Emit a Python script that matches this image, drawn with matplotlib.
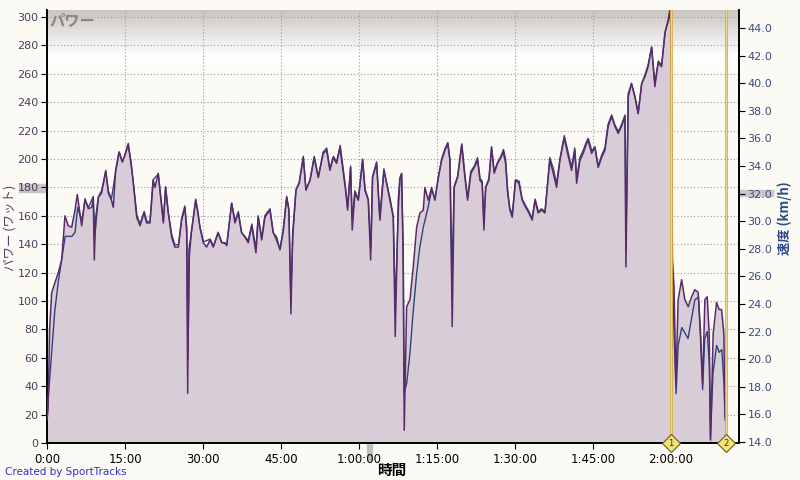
import numpy as np
import matplotlib
matplotlib.use("Agg")
import matplotlib.pyplot as plt
from matplotlib.ticker import FuncFormatter, MultipleLocator
import matplotlib.transforms as mtransforms

plt.rcParams['font.family'] = ['DejaVu Sans', 'Noto Sans CJK JP']

# ---- data (time in minutes) ----
power_t = [0.0, 0.2, 0.3, 0.5, 0.9, 1.54, 2.17, 2.83, 3.46, 4.1, 4.75, 5.38, 5.83, 6.67, 7.31, 7.94,
           8.6, 8.9, 9.1, 9.37, 9.87, 10.5, 11.3, 11.8, 12.4, 12.75, 13.2, 13.85, 14.5, 15.0, 15.63,
           16.15, 16.6, 17.25, 17.9, 18.65, 19.17, 19.8, 20.44, 20.77, 21.4, 22.06, 22.37, 22.83,
           23.33, 23.98, 24.6, 25.25, 25.9, 26.54, 26.87, 27.06, 27.3, 27.83, 28.6, 28.98, 29.42,
           30.06, 30.71, 31.35, 31.98, 32.94, 33.6, 34.23, 34.56, 35.52, 36.15, 36.79, 37.44, 38.08,
           38.71, 39.37, 40.19, 40.63, 41.29, 41.92, 42.88, 43.52, 44.17, 44.81, 45.44, 46.1, 46.54,
           46.92, 47.25, 47.88, 48.52, 49.29, 49.81, 50.58, 51.4, 52.17, 53.13, 53.79, 54.42, 55.06,
           55.71, 56.35, 56.87, 57.5, 57.83, 58.4, 58.71, 59.23, 59.87, 60.71, 61.15, 61.79, 62.25,
           62.63, 63.4, 64.04, 64.81, 65.33, 65.96, 66.6, 66.98, 67.56, 67.88, 68.21, 68.52, 68.71,
           69.17, 69.81, 70.44, 71.1, 71.73, 72.37, 72.69, 73.33, 73.98, 74.62, 75.25, 75.9, 76.54,
           77.06, 77.5, 77.94, 78.33, 78.98, 79.75, 80.38, 80.9, 81.54, 82.17, 82.83, 83.27, 83.71,
           84.04, 84.37, 85.0, 85.52, 86.02, 86.67, 87.31, 87.75, 88.21, 88.6, 89.04, 89.48, 90.13,
           90.77, 91.4, 92.06, 92.69, 93.33, 93.85, 94.48, 95.13, 95.77, 96.29, 96.73, 97.37, 98.02,
           98.65, 99.48, 100.13, 100.9, 101.54, 101.87, 102.5, 103.13, 103.79, 104.1, 104.75, 105.38,
           106.02, 106.67, 107.31, 107.94, 108.6, 109.23, 109.87, 110.52, 111.15, 111.35, 111.79,
           112.44, 113.08, 113.71, 114.37, 115.0, 115.63, 116.29, 116.92, 117.56, 118.21, 118.85,
           119.48, 119.81, 120.0, 120.3, 120.6, 120.96, 121.4, 122.06, 122.69, 123.33, 123.98,
           124.62, 125.25, 125.71, 126.1, 126.54, 126.98, 127.37, 127.63, 128.13, 128.79, 129.29,
           129.75, 130.19, 130.44]
power_w = [16, 23, 40, 80, 106, 113, 120, 129, 160, 153, 152, 164, 175, 153, 172, 165,
           166, 172, 129, 159, 173, 176, 192, 176, 171, 166, 192, 205, 198, 203, 211,
           197, 183, 159, 153, 162, 155, 155, 185, 180, 190, 166, 155, 180,
           162, 145, 138, 138, 157, 166, 148, 35, 136, 150, 171, 164, 152,
           141, 138, 143, 138, 148, 141, 141, 139, 169, 155, 162, 148, 145,
           141, 153, 134, 159, 143, 159, 164, 148, 145, 136, 149, 173, 164,
           91, 148, 178, 183, 201, 178, 185, 201, 187, 204, 206, 192, 201,
           197, 208, 194, 176, 164, 194, 150, 176, 171, 199, 178, 171, 129,
           187, 197, 157, 192, 183, 171, 159, 75, 171, 187, 190, 129, 9,
           96, 101, 124, 152, 162, 164, 180, 171, 180, 171, 187, 199, 206,
           211, 199, 82, 180, 187, 210, 187, 171, 190, 194, 199, 185, 183,
           150, 180, 185, 208, 190, 197, 201, 205, 197, 176, 164, 159, 185,
           183, 171, 166, 162, 157, 171, 162, 164, 162, 183, 199, 190, 180,
           199, 215, 204, 192, 206, 183, 199, 204, 211, 213, 204, 208,
           194, 201, 206, 223, 230, 223, 218, 223, 230, 124, 246,
           253, 244, 232, 253, 258, 265, 279, 251, 268, 265, 289,
           298, 305, 300, 129, 110, 42, 101, 115, 101, 96, 103,
           108, 106, 77, 42, 101, 103, 77, 2, 77, 99, 94,
           94, 77, 16]

speed_t = [0.0, 0.5, 1.0, 1.5, 2.2, 2.8, 3.5, 4.8, 5.4, 5.9, 6.7, 7.3, 8.0, 8.9, 9.2, 9.9, 10.5,
           11.3, 11.8, 12.4, 13.2, 13.9, 14.5, 15.0, 15.6, 16.2, 16.6, 17.3, 17.9, 18.7, 19.2, 19.8,
           20.4, 21.4, 22.1, 22.4, 22.8, 23.3, 24.0, 24.6, 25.3, 25.9, 26.5, 26.9, 27.1, 27.4, 27.8,
           28.6, 29.4, 30.1, 31.4, 32.0, 32.9, 33.6, 34.6, 35.5, 36.2, 36.8, 37.4, 38.7, 39.4, 40.2,
           40.6, 41.3, 41.9, 42.9, 43.5, 44.8, 45.4, 46.1, 46.5, 46.9, 47.3, 47.9, 48.5, 49.3, 49.8,
           50.6, 51.4, 52.2, 53.1, 53.8, 54.4, 55.1, 55.7, 56.4, 56.9, 57.5, 57.8, 58.4, 58.7, 59.2,
           59.9, 60.7, 61.2, 61.8, 62.3, 62.6, 63.4, 64.0, 64.8, 65.3, 66.0, 66.6, 67.0, 67.6, 67.9,
           68.2, 68.5, 68.7, 69.2, 69.8, 70.4, 71.1, 71.7, 72.4, 73.3, 74.0, 74.6, 75.3, 75.9, 76.5,
           77.1, 77.5, 77.9, 78.3, 79.0, 79.8, 80.4, 80.9, 81.5, 82.2, 82.8, 83.3, 83.7, 84.0, 84.4,
           85.0, 85.5, 86.0, 86.7, 87.3, 87.8, 88.2, 88.6, 89.0, 89.5, 90.1, 90.8, 91.4, 92.1, 92.7,
           93.3, 93.9, 94.5, 95.1, 95.8, 96.3, 96.7, 97.4, 98.0, 98.7, 99.5, 100.1, 100.9, 101.5,
           101.9, 102.5, 103.1, 103.8, 104.1, 104.8, 105.4, 106.0, 106.7, 107.3, 107.9, 108.6, 109.2,
           109.9, 110.5, 111.2, 111.35, 111.8, 112.4, 113.1, 113.7, 114.4, 115.0, 115.6, 116.3, 116.9,
           117.6, 118.2, 118.9, 119.5, 119.8, 120.0, 120.3, 120.6, 121.0, 121.4, 122.1, 122.7, 123.3,
           124.0, 124.6, 125.3, 125.7, 126.1, 126.5, 127.0, 127.4, 127.6, 128.1, 128.8, 129.3, 129.8,
           130.2, 130.4]
speed_kmh = [16.0, 18.5, 21.0, 23.5, 25.7, 27.2, 28.9, 28.9, 29.2, 31.0, 30.0, 31.5, 31.0, 31.8, 29.0, 31.8, 32.2,
             33.6, 32.2, 31.6, 33.6, 35.0, 34.3, 34.8, 35.5, 34.2, 32.8, 30.4, 29.8, 30.7, 30.0, 29.9,
             33.0, 33.4, 31.0, 30.0, 32.5, 30.7, 29.0, 28.3, 28.3, 30.2, 31.1, 29.5, 20.0, 27.5, 29.3,
             31.6, 29.6, 28.5, 28.7, 28.2, 29.2, 28.5, 28.3, 31.3, 30.0, 30.7, 29.2, 28.6, 29.8, 28.0,
             30.4, 28.8, 30.4, 30.9, 29.2, 28.0, 29.3, 31.8, 30.9, 24.5, 29.0, 32.3, 32.8, 34.7, 32.3,
             33.0, 34.7, 33.2, 35.0, 35.3, 33.8, 34.7, 34.3, 35.5, 34.0, 32.2, 31.0, 34.0, 30.0, 32.2,
             31.6, 34.5, 32.3, 31.6, 28.0, 33.2, 34.3, 30.2, 33.8, 32.8, 31.6, 30.4, 24.0, 31.0, 33.0,
             33.4, 28.0, 17.5, 18.3, 20.4, 23.3, 26.2, 28.1, 29.6, 31.0, 32.3, 31.6, 33.2, 34.5, 35.2,
             35.7, 34.5, 26.0, 32.5, 33.3, 35.6, 33.3, 31.7, 33.6, 34.0, 34.6, 33.1, 32.9, 30.0, 32.5,
             33.1, 35.4, 33.6, 34.3, 34.7, 35.2, 34.5, 32.3, 31.0, 30.5, 33.0, 32.9, 31.6, 31.1, 30.7,
             30.2, 31.6, 30.7, 30.9, 30.7, 32.8, 34.6, 33.8, 32.7, 34.6, 36.2, 35.2, 33.9, 35.3,
             33.1, 34.6, 35.1, 35.8, 36.0, 35.1, 35.4, 34.0, 34.8, 35.3, 37.0, 37.7, 37.0,
             36.5, 37.0, 37.7, 28.0, 39.0, 40.0, 39.0, 37.8, 40.0, 40.6, 41.3, 42.6, 40.0,
             41.6, 41.3, 43.7, 44.5, 45.2, 44.0, 26.0, 22.0, 17.5, 21.0, 22.3, 21.9, 21.5,
             23.0, 24.3, 24.5, 21.5, 17.8, 21.5, 22.0, 19.5, 14.2, 19.0, 21.0, 20.5, 20.7,
             18.3, 15.8]

lap_t = [120.0, 130.6]
lap_labels = ["1", "2"]
x_ticks = [0, 15, 30, 45, 60, 75, 90, 105, 120]

# ---- style ----
bg = '#FBFAF5'
fill_c = '#D8CDD7'
power_c = '#5A2B68'
speed_c = '#31427E'
lap_c = '#D9AE45'
left_lbl_c = '#4C3D5E'
right_lbl_c = '#3B4A7C'
cjk = ['Noto Sans CJK JP', 'DejaVu Sans']

fig = plt.figure(figsize=(8, 4.8), dpi=100, facecolor=bg)
ax = fig.add_axes([47/800, 1-443/480, (739-47)/800, (443-10)/480])
ax.set_facecolor(bg)
ax2 = ax.twinx()
ax2.patch.set_visible(False)

ax.set_xlim(0, 133.1)
ax.set_ylim(0, 305)
ax2.set_ylim(13.93, 45.3)

# top gradient band
top_col = np.array([0.79, 0.775, 0.755])
bgc = np.array(matplotlib.colors.to_rgb(bg))
white = np.array([1.0, 1.0, 1.0])
img = np.zeros((100, 1, 3))
for i in range(100):
    g = i / 99
    if g < 0.75:
        c = top_col + (white - top_col) * (g / 0.75)
    else:
        c = white + (bgc - white) * ((g - 0.75) / 0.25)
    img[i, 0] = c
ax.imshow(img, extent=[0, 1, 0.86, 1.0], transform=ax.transAxes, aspect='auto', zorder=0.5)

# grid
ax.yaxis.set_major_locator(MultipleLocator(20))
ax.set_xticks(x_ticks)
ax.grid(True, color='#9A9A9A', linestyle=(0, (1, 2)), linewidth=0.8, zorder=1)
ax.set_axisbelow(True)

# fill (bottom axes), then speed and power lines on the top axes
ax.fill_between(power_t, 0, power_w, color=fill_c, zorder=2, linewidth=0)
ax2.plot(speed_t, speed_kmh, color=speed_c, linewidth=1.0, zorder=3)
ax2.plot(power_t, power_w, color=power_c, linewidth=1.1, zorder=4, transform=ax.transData)
ax2.set_xlim(0, 133.1)
ax2.set_ylim(13.93, 45.3)

# laps
for t, lab in zip(lap_t, lap_labels):
    ax2.axvline(t, color=lap_c, linewidth=2.0, zorder=5)
    ax2.axvline(t, color='#F3DE9A', linewidth=0.6, zorder=5.1)
    ax2.plot([t], [13.93], marker='D', markersize=9, markerfacecolor='#F2E27A',
             markeredgecolor='#6B5A20', markeredgewidth=0.8, clip_on=False, zorder=6)
    ax2.text(t, 13.93, lab, fontsize=6, ha='center', va='center', color='#3A3010', zorder=7,
             clip_on=False)

# axes spines
for a in (ax, ax2):
    a.spines['top'].set_visible(False)
    for s in ('left', 'right', 'bottom'):
        a.spines[s].set_color('black')
        a.spines[s].set_linewidth(1.2)

def fmt_time(m, pos):
    h = int(m // 60)
    mm = int(round(m % 60))
    return f"{h}:{mm:02d}:00" if h else f"{mm}:00"

ax.xaxis.set_major_formatter(FuncFormatter(fmt_time))
ax.tick_params(axis='x', labelsize=8.5, colors='black', length=4, pad=3)
ax.tick_params(axis='y', labelsize=8, labelcolor=left_lbl_c, length=4, pad=2)
ax2.yaxis.set_major_locator(MultipleLocator(2))
ax2.yaxis.set_major_formatter(FuncFormatter(lambda v, p: f"{v:.1f}"))
ax2.tick_params(axis='y', labelsize=8, labelcolor=right_lbl_c, length=4, pad=2)

# cursor highlights (behind the axes)
bt_l = mtransforms.blended_transform_factory(fig.transFigure, ax.transData)
fig.patches.append(matplotlib.patches.Rectangle((19/800, 177), 28/800, 5.5, transform=bt_l,
                                                 color='#C9C4CC', zorder=-1))
bt_r = mtransforms.blended_transform_factory(fig.transFigure, ax2.transData)
fig.patches.append(matplotlib.patches.Rectangle((740/800, 31.8), 33/800, 0.45, transform=bt_r,
                                                 color='#C9C4CC', zorder=-1))
bt_b = mtransforms.blended_transform_factory(ax.transData, fig.transFigure)
fig.patches.append(matplotlib.patches.Rectangle((61.6, 1-460/480), 1.0, 16/480, transform=bt_b,
                                                 color='#C0C0C0', zorder=-1))

# labels
ax2.text(0.004, 0.995, "パワー", transform=ax.transAxes, fontsize=11, color='#8A8580',
         ha='left', va='top', family=cjk, fontstyle='italic', fontweight='bold', zorder=8)
fig.text(10/800, 1-228/480, "パワー (ワット)", rotation=90, ha='center', va='center',
         fontsize=9, color='#5B3A6B', family=cjk)
fig.text(785/800, 1-218/480, "速度 (km/h)", rotation=90, ha='center', va='center',
         fontsize=9.5, color='#2E4A8A', fontweight='bold', family=cjk)
fig.text(392/800, 1-470/480, "時間", ha='center', va='center', fontsize=10.5,
         fontweight='bold', color='black', family=cjk)
fig.text(5/800, 1-472/480, "Created by SportTracks", ha='left', va='center', fontsize=7.5,
         color='#3030C8')

fig.savefig("out.png", dpi=100, facecolor=bg)
